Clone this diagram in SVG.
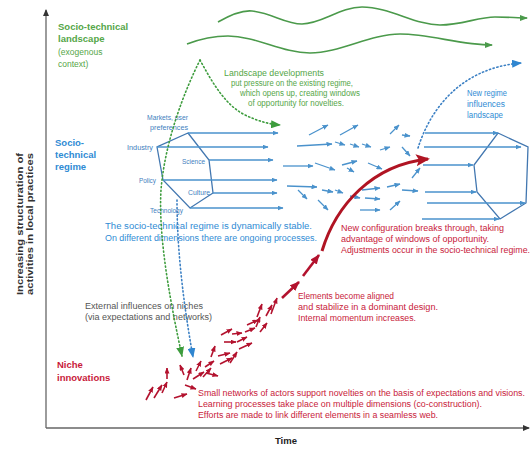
<svg xmlns="http://www.w3.org/2000/svg" width="531" height="450" viewBox="0 0 531 450">
<style>
text{font-family:"Liberation Sans",Arial,sans-serif;}
.t{font-size:8.5px;}
.h{font-size:6.8px;fill:#3f7fc0;}
.b{font-weight:bold;font-size:9.5px;}
.gr{fill:#55a648;}
.bl{fill:#2f8bd4;}
.rd{fill:#c81a3a;}
.gy{fill:#555;}
.ba{stroke:#4a92cc;stroke-width:1.3;fill:none;marker-end:url(#mb);}
.ra{stroke:#b3122e;stroke-width:1.6;fill:none;marker-end:url(#mr);}
.hex{stroke:#4277b0;stroke-width:1.3;fill:none;}
.wave{stroke:#4b9a4b;stroke-width:1.6;fill:none;marker-end:url(#mgs);}
.gd{stroke:#3d9c3d;stroke-width:1.6;fill:none;stroke-dasharray:1.2 2.6;stroke-linecap:round;marker-end:url(#mg);}
.bd{stroke:#3c80c4;stroke-width:1.6;fill:none;stroke-dasharray:1.2 2.6;stroke-linecap:round;marker-end:url(#mbd);}
</style>
<defs>
<marker id="mb" markerUnits="userSpaceOnUse" markerWidth="6" markerHeight="5" refX="5.5" refY="2.5" orient="auto"><path d="M0,0 L6,2.5 L0,5 z" fill="#4a92cc"/></marker>
<marker id="mr" markerUnits="userSpaceOnUse" markerWidth="6" markerHeight="5" refX="5.5" refY="2.5" orient="auto"><path d="M0,0 L6,2.5 L0,5 z" fill="#b3122e"/></marker>
<marker id="mrm" markerUnits="userSpaceOnUse" markerWidth="10" markerHeight="8" refX="9" refY="4" orient="auto"><path d="M0,0 L10,4 L0,8 z" fill="#b3122e"/></marker>
<marker id="mrb" markerUnits="userSpaceOnUse" markerWidth="14" markerHeight="12" refX="12" refY="6" orient="auto"><path d="M0,0 L14,6 L0,12 L3,6 z" fill="#b01423"/></marker>
<marker id="mg" markerUnits="userSpaceOnUse" markerWidth="10" markerHeight="8" refX="9" refY="4" orient="auto"><path d="M0,0 L10,4 L0,8 z" fill="#3d9c3d"/></marker>
<marker id="mgs" markerUnits="userSpaceOnUse" markerWidth="8" markerHeight="6" refX="7" refY="3" orient="auto"><path d="M0,0 L8,3 L0,6 z" fill="#4b9a4b"/></marker>
<marker id="mbd" markerUnits="userSpaceOnUse" markerWidth="10" markerHeight="8" refX="9" refY="4" orient="auto"><path d="M0,0 L10,4 L0,8 z" fill="#2f86d0"/></marker>
<marker id="mk" markerUnits="userSpaceOnUse" markerWidth="7" markerHeight="6" refX="6" refY="3" orient="auto"><path d="M0,0 L7,3 L0,6 z" fill="#333"/></marker>
</defs>
<rect width="531" height="450" fill="#fff"/>

<g id="axes">
<line x1="46" y1="428" x2="46" y2="10" stroke="#666" stroke-width="1.3" marker-end="url(#mk)"/>
<line x1="46" y1="428" x2="529" y2="428" stroke="#666" stroke-width="1.3" marker-end="url(#mk)"/>
<text class="b" x="286" y="444" text-anchor="middle" font-size="9" fill="#222">Time</text>
<text x="23" y="224" transform="rotate(-90 23 224)" text-anchor="middle" font-size="8.5" font-weight="bold" fill="#333" textLength="142" lengthAdjust="spacingAndGlyphs">Increasing structuration of</text>
<text x="33" y="224" transform="rotate(-90 33 224)" text-anchor="middle" font-size="8.5" font-weight="bold" fill="#333" textLength="142" lengthAdjust="spacingAndGlyphs">activities in local practices</text>
</g>

<g id="landscape">
<text class="b gr" x="58" y="30">Socio-technical</text>
<text class="b gr" x="58" y="42">landscape</text>
<text class="t gr" x="58" y="55" font-size="9">(exogenous</text>
<text class="t gr" x="58" y="67" font-size="9">context)</text>
<path class="wave" d="M218,22 C232,14 242,10 252,11 C272,13 285,24 302,24 C322,24 340,7 362,7 C390,7 415,25 440,25 C462,25 478,17 495,17 C508,17 518,18 527,18"/>
<path class="wave" d="M187,44 C200,39 214,36 228,36 C256,36 282,53 310,53 C340,53 370,34 400,34 C430,34 460,45 492,45"/>
<text class="t gr" x="224" y="76" textLength="100" lengthAdjust="spacingAndGlyphs">Landscape developments</text>
<text class="t gr" x="231" y="86" textLength="122" lengthAdjust="spacingAndGlyphs">put pressure on the existing regime,</text>
<text class="t gr" x="240" y="96" textLength="120" lengthAdjust="spacingAndGlyphs">which opens up, creating windows</text>
<text class="t gr" x="248" y="106" textLength="96" lengthAdjust="spacingAndGlyphs">of opportunity for novelties.</text>
</g>

<g id="regime">
<text class="b bl" x="55" y="146">Socio-</text>
<text class="b bl" x="55" y="158">technical</text>
<text class="b bl" x="55" y="170">regime</text>
<path class="hex" d="M188,133 L209,160 L213,193 L190,208 L163,180 L157,147 Z"/>
<text class="h" x="147" y="120" textLength="41" lengthAdjust="spacingAndGlyphs">Markets, user</text>
<text class="h" x="150" y="130" textLength="38" lengthAdjust="spacingAndGlyphs">preferences</text>
<text class="h" x="127" y="150" textLength="26" lengthAdjust="spacingAndGlyphs">Industry</text>
<text class="h" x="182" y="164" textLength="23" lengthAdjust="spacingAndGlyphs">Science</text>
<text class="h" x="139" y="183" textLength="17" lengthAdjust="spacingAndGlyphs">Policy</text>
<text class="h" x="188" y="195" textLength="22" lengthAdjust="spacingAndGlyphs">Culture</text>
<text class="h" x="150" y="213" textLength="33" lengthAdjust="spacingAndGlyphs">Technology</text>
<text class="t bl" x="105" y="229" textLength="207" lengthAdjust="spacingAndGlyphs">The socio-technical regime is dynamically stable.</text>
<text class="t bl" x="105" y="241" textLength="212" lengthAdjust="spacingAndGlyphs">On different dimensions there are ongoing processes.</text>
</g>

<g id="new-regime">
<path class="hex" d="M498,133 L528,147 L526,203 L500,219 L477,192 L474,165 Z"/>
<text class="t bl" x="467" y="96" textLength="40" lengthAdjust="spacingAndGlyphs">New regime</text>
<text class="t bl" x="467" y="107" textLength="38" lengthAdjust="spacingAndGlyphs">influences</text>
<text class="t bl" x="467" y="118" textLength="36" lengthAdjust="spacingAndGlyphs">landscape</text>
</g>

<g id="niche">
<text class="b rd" x="57" y="368">Niche</text>
<text class="b rd" x="57" y="381">innovations</text>
<text class="t gy" x="85" y="309" textLength="118" lengthAdjust="spacingAndGlyphs">External influences on niches</text>
<text class="t gy" x="85" y="320" textLength="127" lengthAdjust="spacingAndGlyphs">(via expectations and networks)</text>
<text class="t rd" x="341" y="231" textLength="163" lengthAdjust="spacingAndGlyphs">New configuration breaks through, taking</text>
<text class="t rd" x="341" y="242" textLength="148" lengthAdjust="spacingAndGlyphs">advantage of windows of opportunity.</text>
<text class="t rd" x="341" y="253" textLength="189" lengthAdjust="spacingAndGlyphs">Adjustments occur in the socio-technical regime.</text>
<text class="t rd" x="298" y="299" textLength="96" lengthAdjust="spacingAndGlyphs">Elements become aligned</text>
<text class="t rd" x="298" y="310" textLength="140" lengthAdjust="spacingAndGlyphs">and stabilize in a dominant design.</text>
<text class="t rd" x="298" y="321" textLength="118" lengthAdjust="spacingAndGlyphs">Internal momentum increases.</text>
<text class="t rd" x="198" y="396" textLength="327" lengthAdjust="spacingAndGlyphs">Small networks of actors support novelties on the basis of expectations and visions.</text>
<text class="t rd" x="198" y="407" textLength="284" lengthAdjust="spacingAndGlyphs">Learning processes take place on multiple dimensions (co-construction).</text>
<text class="t rd" x="198" y="418" textLength="240" lengthAdjust="spacingAndGlyphs">Efforts are made to link different elements in a seamless web.</text>
</g>

<g id="connectors">
<line class="ba" x1="188" y1="133" x2="278" y2="133"/>
<line class="ba" x1="157" y1="147" x2="268" y2="147"/>
<line class="ba" x1="209" y1="160" x2="273" y2="160"/>
<line class="ba" x1="163" y1="180" x2="277" y2="180"/>
<line class="ba" x1="213" y1="193" x2="277" y2="193"/>
<line class="ba" x1="190" y1="208" x2="283" y2="208"/>
<line class="ba" x1="309" y1="135" x2="328" y2="125"/>
<line class="ba" x1="340" y1="135" x2="358" y2="125"/>
<line class="ba" x1="390" y1="134" x2="399" y2="125"/>
<line class="ba" x1="402" y1="135" x2="410" y2="136"/>
<line class="ba" x1="297" y1="146" x2="332" y2="144"/>
<line class="ba" x1="335" y1="142" x2="345" y2="145"/>
<line class="ba" x1="350" y1="144" x2="359" y2="147"/>
<line class="ba" x1="362" y1="144" x2="371" y2="147"/>
<line class="ba" x1="380" y1="150" x2="390" y2="147"/>
<line class="ba" x1="402" y1="147" x2="410" y2="156"/>
<line class="ba" x1="283" y1="166" x2="313" y2="166"/>
<line class="ba" x1="315" y1="163" x2="335" y2="170"/>
<line class="ba" x1="342" y1="165" x2="357" y2="161"/>
<line class="ba" x1="347" y1="168" x2="354" y2="172"/>
<line class="ba" x1="368" y1="163" x2="382" y2="169"/>
<line class="ba" x1="412" y1="178" x2="420" y2="168"/>
<line class="ba" x1="287" y1="186" x2="317" y2="187"/>
<line class="ba" x1="298" y1="190" x2="307" y2="199"/>
<line class="ba" x1="322" y1="190" x2="333" y2="192"/>
<line class="ba" x1="335" y1="190" x2="343" y2="193"/>
<line class="ba" x1="350" y1="196" x2="360" y2="198"/>
<line class="ba" x1="362" y1="190" x2="380" y2="188"/>
<line class="ba" x1="387" y1="187" x2="400" y2="184"/>
<line class="ba" x1="402" y1="190" x2="418" y2="191"/>
<line class="ba" x1="318" y1="200" x2="328" y2="210"/>
<line class="ba" x1="360" y1="210" x2="380" y2="210"/>
<line class="ba" x1="365" y1="198" x2="380" y2="199"/>
<line class="ba" x1="390" y1="210" x2="400" y2="201"/>
<line class="ba" x1="425" y1="133" x2="498" y2="133"/>
<line class="ba" x1="424" y1="147" x2="521" y2="147"/>
<line class="ba" x1="423" y1="165" x2="473" y2="165"/>
<line class="ba" x1="425" y1="192" x2="476" y2="192"/>
<line class="ba" x1="427" y1="203" x2="525" y2="203"/>
<line class="ba" x1="422" y1="219" x2="499" y2="219"/>
<path class="gd" d="M200,60 C185,90 165,140 161,190 C158,240 172,310 182,356"/>
<path class="gd" d="M200,60 C212,82 225,105 245,115 C258,121 268,124 280,125"/>
<path class="bd" d="M177,200 C177,240 181,290 193,357"/>
<path class="bd" d="M418,148 C430,110 460,68 521,63"/>
<line class="ra" x1="146" y1="400" x2="153" y2="387"/>
<line class="ra" x1="154" y1="398" x2="162" y2="385"/>
<line class="ra" x1="162" y1="393" x2="167" y2="382"/>
<line class="ra" x1="174" y1="398" x2="187" y2="394"/>
<line class="ra" x1="185" y1="385" x2="196" y2="389"/>
<line class="ra" x1="167" y1="379" x2="167" y2="368"/>
<line class="ra" x1="184" y1="375" x2="180" y2="365"/>
<line class="ra" x1="187" y1="380" x2="191" y2="368"/>
<line class="ra" x1="193" y1="379" x2="204" y2="372"/>
<line class="ra" x1="196" y1="371" x2="201" y2="361"/>
<line class="ra" x1="203" y1="377" x2="211" y2="368"/>
<line class="ra" x1="205" y1="367" x2="214" y2="361"/>
<line class="ra" x1="206" y1="373" x2="218" y2="376"/>
<line class="ra" x1="211" y1="357" x2="215" y2="346"/>
<line class="ra" x1="218" y1="356" x2="230" y2="353"/>
<line class="ra" x1="220" y1="364" x2="232" y2="358"/>
<line class="ra" x1="230" y1="363" x2="237" y2="352"/>
<line class="ra" x1="221" y1="335" x2="232" y2="329"/>
<line class="ra" x1="224" y1="342" x2="236" y2="342"/>
<line class="ra" x1="232" y1="334" x2="242" y2="333"/>
<line class="ra" x1="237" y1="342" x2="247" y2="337"/>
<line class="ra" x1="239" y1="349" x2="252" y2="343"/>
<line class="ra" x1="245" y1="332" x2="255" y2="328"/>
<line class="ra" x1="247" y1="325" x2="258" y2="320"/>
<line class="ra" x1="256" y1="327" x2="260" y2="317"/>
<line class="ra" x1="257" y1="317" x2="262" y2="304"/>
<line class="ra" x1="260" y1="332" x2="267" y2="323"/>
<line class="ra" x1="266" y1="316" x2="272" y2="305"/>
<line class="ra" x1="271" y1="314" x2="277" y2="298"/>
<line x1="282" y1="298" x2="299" y2="282" stroke="#b3122e" stroke-width="2.6" marker-end="url(#mrm)"/>
<line x1="303" y1="276" x2="319" y2="255" stroke="#b3122e" stroke-width="2.6" marker-end="url(#mrm)"/>
<path d="M322,251 C336,205 372,165 428,159" stroke="#b01423" stroke-width="3" fill="none" marker-end="url(#mrb)"/>
</g>
</svg>
